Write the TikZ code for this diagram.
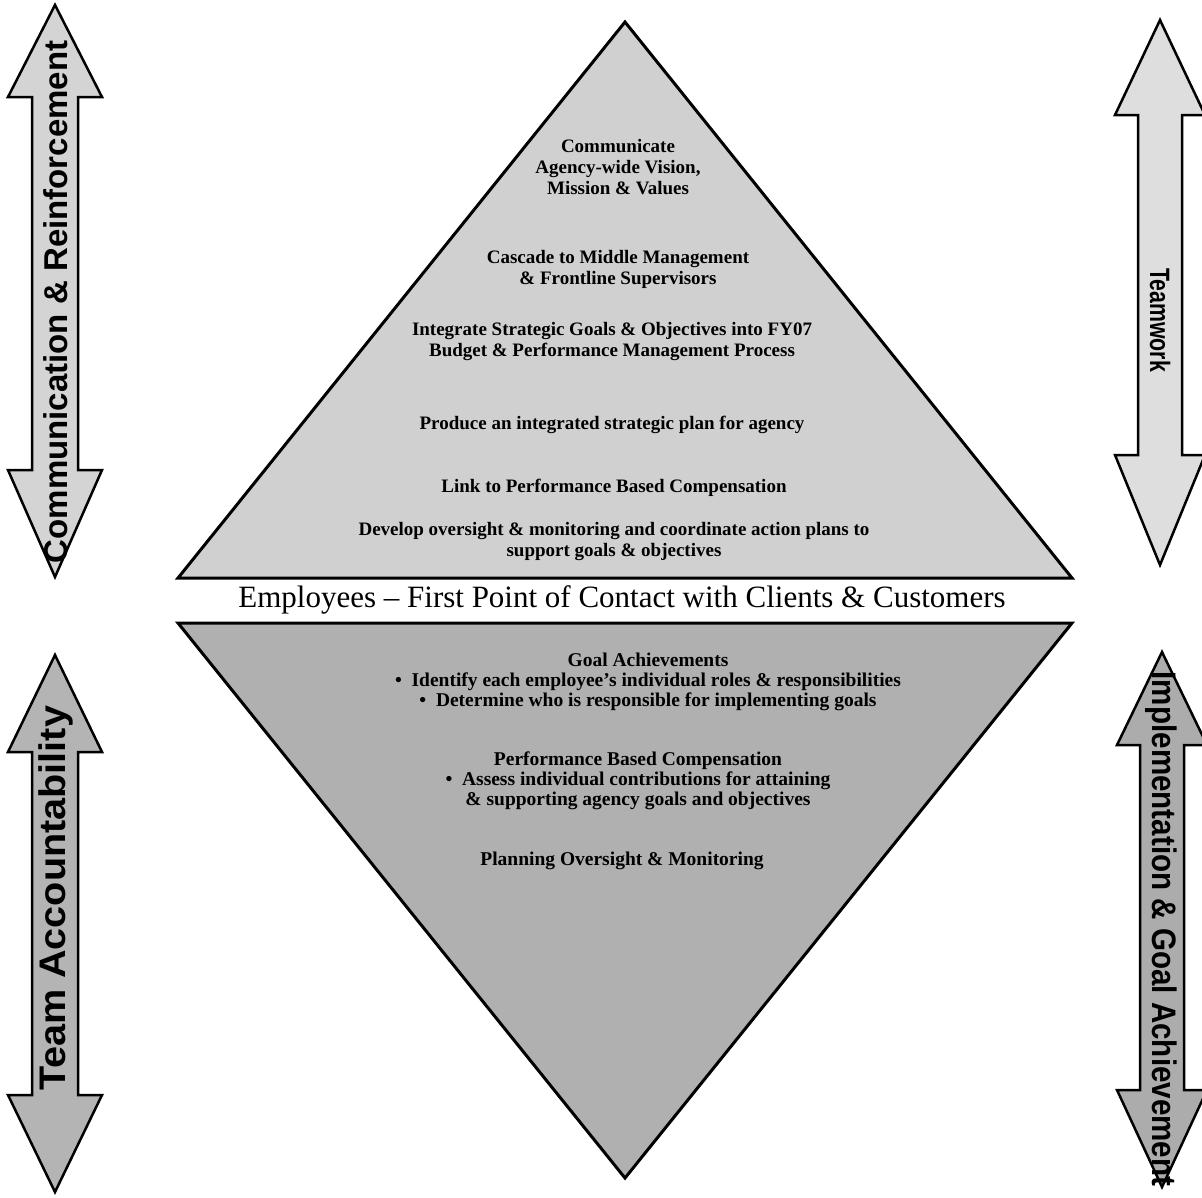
\documentclass[tikz,border=0pt]{standalone}
\usepackage{fontspec}
\setmainfont{Liberation Serif}
\newfontfamily\arrowfont{Liberation Sans}
\definecolor{topfill}{HTML}{D0D0D0}
\definecolor{botfill}{HTML}{B0B0B0}
\definecolor{ltfill}{HTML}{D4D4D4}
\definecolor{lbfill}{HTML}{B4B4B4}
\definecolor{rtfill}{HTML}{DEDEDE}
\definecolor{rbfill}{HTML}{ACACAC}
\newcommand\dblarrowpath[7]{% cx, tip top, wing top, wing bottom, tip bottom, wing half, shaft half
  (#1,#2) -- ({#1+#6},#3) -- ({#1+#7},#3) -- ({#1+#7},#4) -- ({#1+#6},#4) -- (#1,#5)
  -- ({#1-#6},#4) -- ({#1-#7},#4) -- ({#1-#7},#3) -- ({#1-#6},#3) -- cycle}
\tikzset{
  tri/.style={draw=black, line width=3pt, line join=miter},
  dblarrow/.style={draw=black, line width=2.5pt, line join=miter},
  toptext/.style={font=\bfseries\fontsize{19}{21}\selectfont, align=center, inner sep=0pt},
  bottext/.style={font=\bfseries\fontsize{19.5}{20}\selectfont, align=center, inner sep=0pt},
  bandtext/.style={font=\fontsize{31}{34}\selectfont, inner sep=0pt},
  arrowtext/.style={font=\arrowfont\bfseries\fontsize{#1}{#1}\selectfont, inner sep=0pt},
}
\begin{document}
\begin{tikzpicture}[x=1pt, y=-1pt]
\useasboundingbox (0,0) rectangle (1202,1197);
% triangles
\draw[tri, fill=topfill] (625,22) -- (1072,578) -- (178,578) -- cycle;
\draw[tri, fill=botfill] (178,623) -- (1072,623) -- (625,1178) -- cycle;
% double arrows
\draw[dblarrow, fill=ltfill] \dblarrowpath{55}{5}{97}{470}{577}{47}{23};
\draw[dblarrow, fill=lbfill] \dblarrowpath{55}{655}{752}{1095}{1192}{47}{23};
\draw[dblarrow, fill=rtfill] \dblarrowpath{1160}{20}{115}{455}{565}{45}{22};
\draw[dblarrow, fill=rbfill] \dblarrowpath{1162}{652}{745}{1090}{1187}{45}{22};
% arrow labels
\node[arrowtext=33, rotate=90] (lt) at (56,302) {Communication \& Reinforcement};
\node[arrowtext=37, rotate=90] (lb) at (56,898) {\scalebox{1.07}[1]{Team Accountability}};
\node[arrowtext=28, rotate=-90] (rt) at (1160,320) {\scalebox{0.76}[1]{Teamwork}};
\node[arrowtext=34, rotate=-90] (rb) at (1161,929) {\scalebox{0.87}[1]{Implementation \& Goal Achievement}};
% top triangle text
\node[toptext] (t1) at (618,167) {Communicate\\Agency-wide Vision,\\Mission \& Values};
\node[toptext] (t2) at (618,269) {Cascade to Middle Management\\\& Frontline Supervisors};
\node[toptext] (t3) at (612,341) {Integrate Strategic Goals \& Objectives into FY07\\Budget \& Performance Management Process};
\node[toptext] (t4) at (612,425) {Produce an integrated strategic plan for agency};
\node[toptext] (t5) at (614,488) {Link to Performance Based Compensation};
\node[toptext] (t6) at (614,541) {Develop oversight \& monitoring and coordinate action plans to\\support goals \& objectives};
% band
\node[bandtext] (band) at (622,600) {Employees -- First Point of Contact with Clients \& Customers};
% bottom triangle text
\node[bottext] (b1) at (648,682) {Goal Achievements\\\textbullet\ \ Identify each employee's individual roles \& responsibilities\\\textbullet\ \ Determine who is responsible for implementing goals};
\node[bottext] (b2) at (638,781) {Performance Based Compensation\\\textbullet\ \ Assess individual contributions for attaining\\\& supporting agency goals and objectives};
\node[bottext] (b3) at (622,861) {Planning Oversight \& Monitoring};
\end{tikzpicture}
\end{document}
